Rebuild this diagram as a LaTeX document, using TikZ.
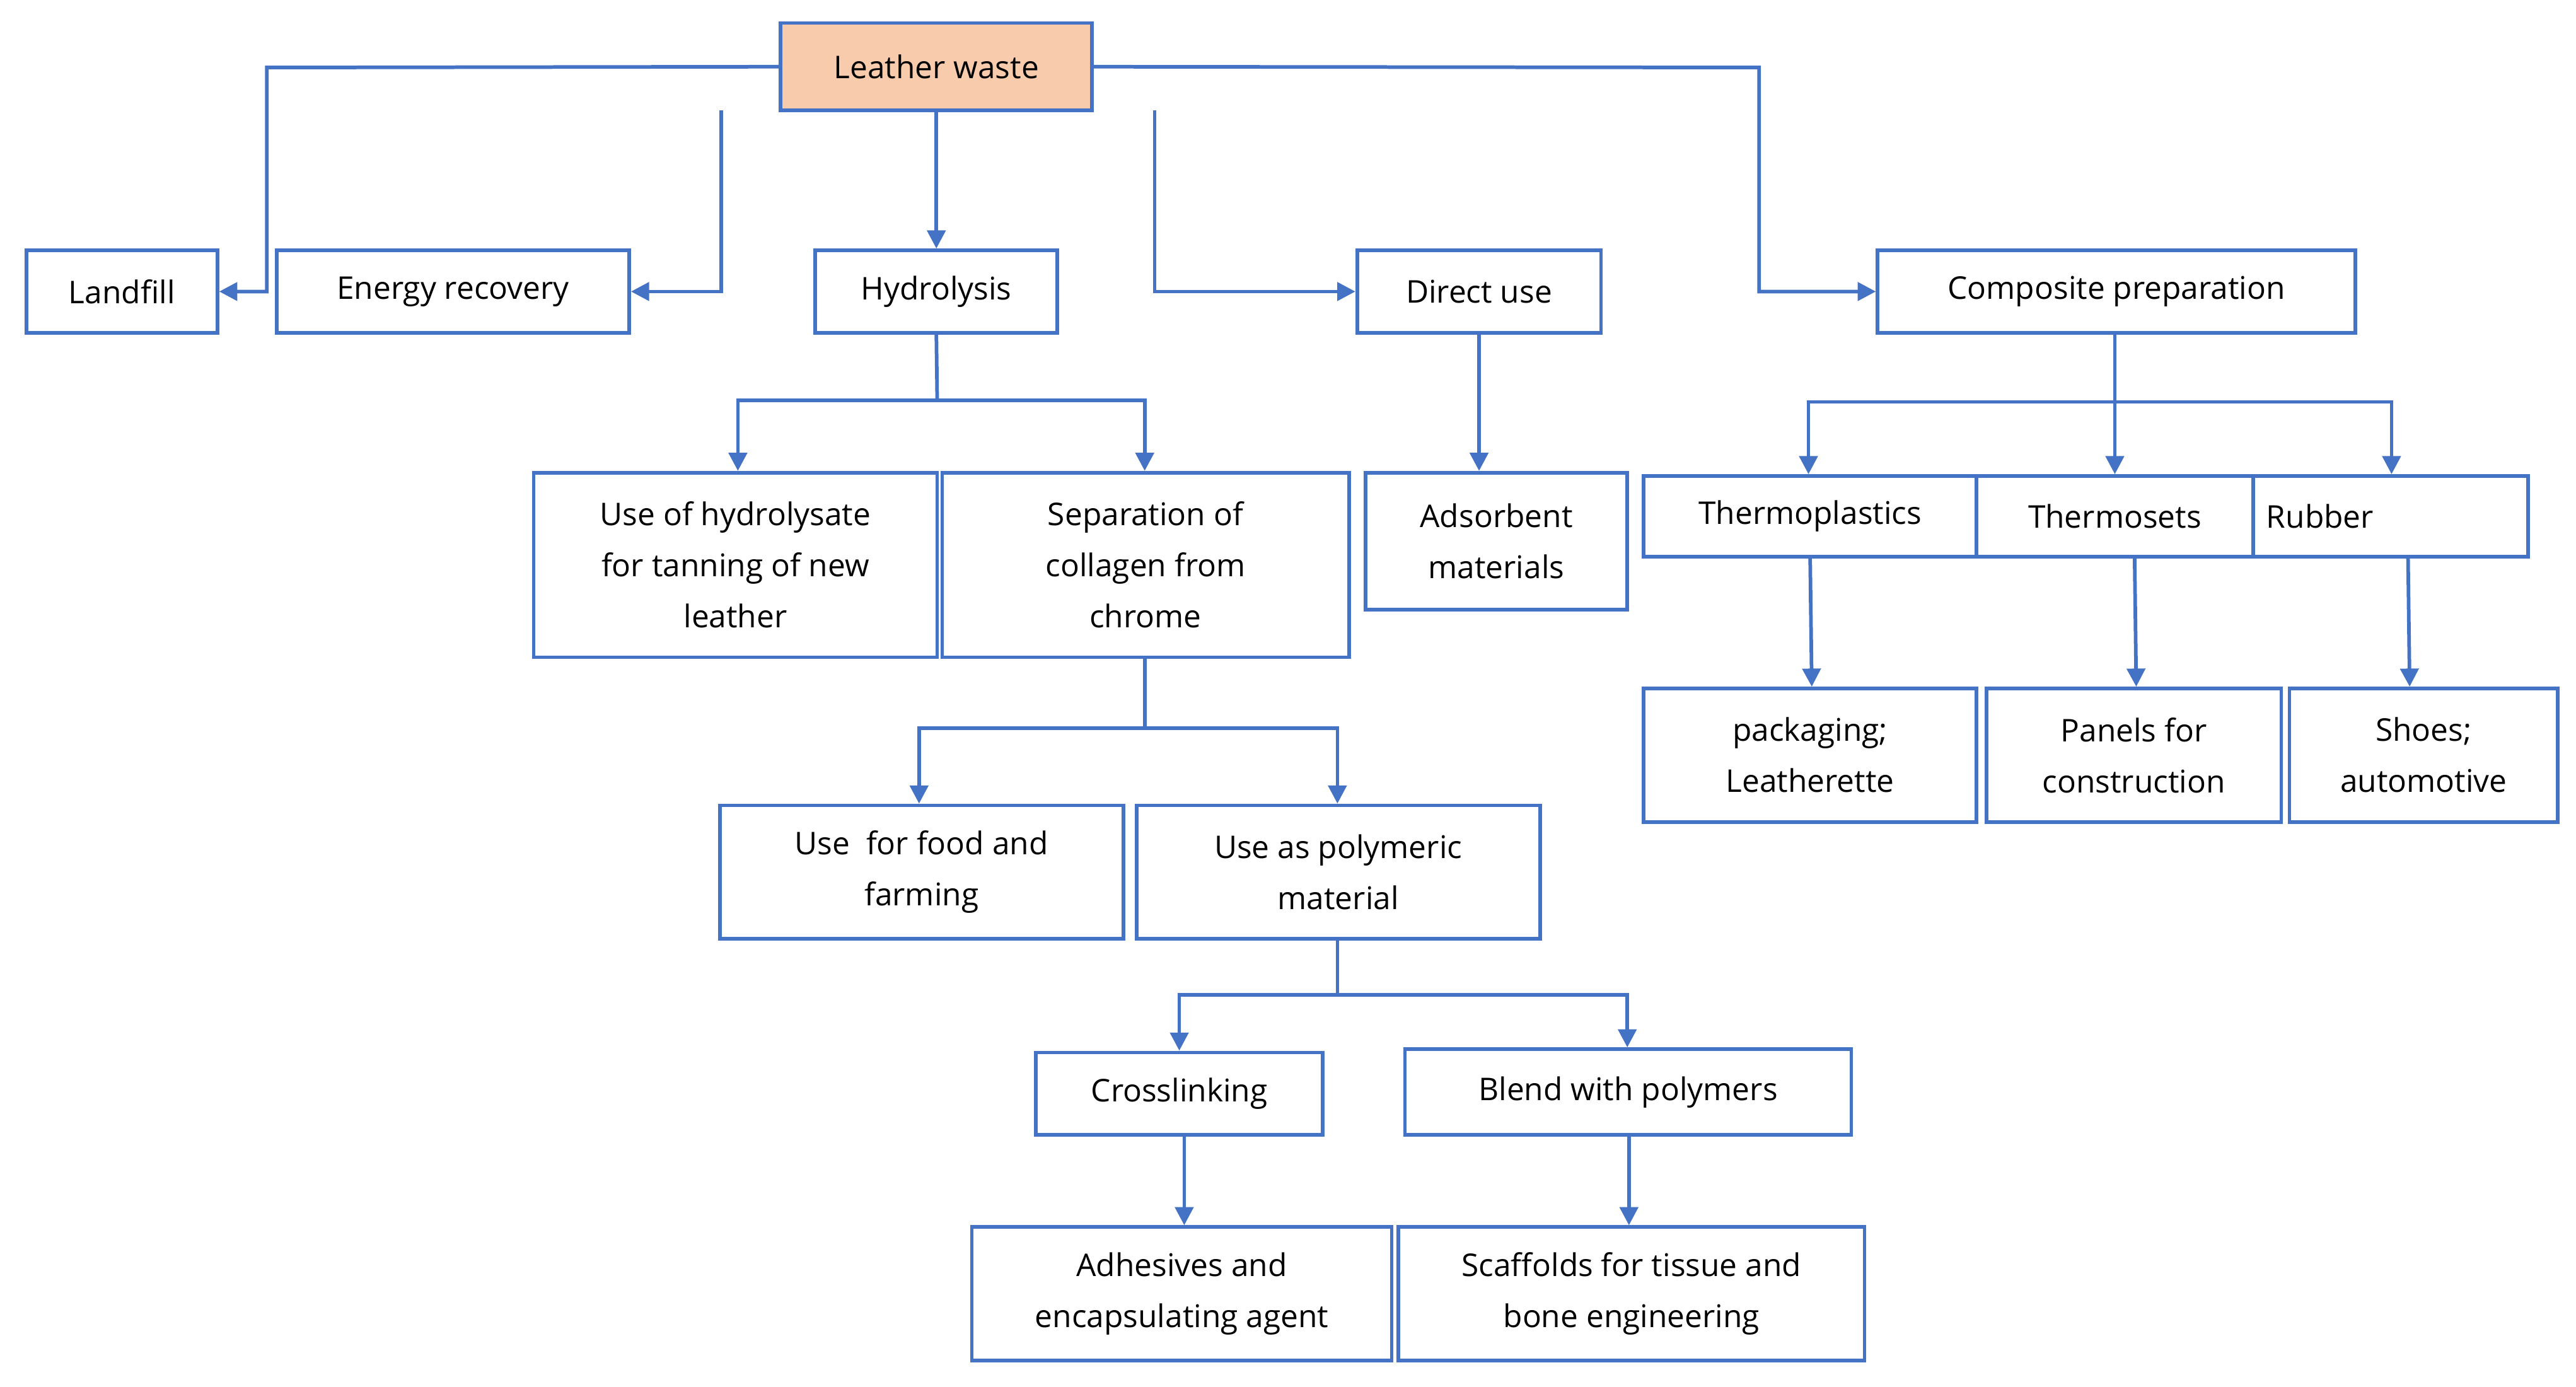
\documentclass[tikz,border=0pt]{standalone}
\usepackage{fontspec}
\setmainfont{Open Sans}
\usetikzlibrary{arrows.meta}
\definecolor{bl}{HTML}{4472C4}
\definecolor{pe}{HTML}{F8CBAD}
\tikzset{
 box/.style={draw=bl,line width=2.2pt,inner sep=0pt,align=center,font=\fontsize{19}{31}\selectfont,text=black},
 ln/.style={draw=bl,line width=2.2pt},
 arr/.style={ln,-{Triangle[length=11pt,width=11pt]}}
}
\newcommand{\bx}[7][]{\node[box,#1,minimum width={(#5-#3)*1pt},minimum height={(#6-#4)*1pt}] (#2) at ({(#3+#5)/2},{(#4+#6)/2}) {#7};}
\begin{document}
\begin{tikzpicture}[x=1pt,y=-1pt]
\useasboundingbox (0,0) rectangle (1564,842);
\bx[fill=pe]{lw}{474}{14}{663}{67}{Leather waste}
\bx{lf}{16}{152}{132}{202}{Landfill}
\bx{er}{168}{152}{382}{202}{Energy recovery}
\bx{hy}{495}{152}{642}{202}{Hydrolysis}
\bx{du}{824}{152}{972}{202}{Direct use}
\bx{cp}{1140}{152}{1430}{202}{Composite preparation}
\bx{uh}{324}{287}{569}{399}{Use of hydrolysate\\for tanning of new\\leather}
\bx{sc}{572}{287}{819}{399}{Separation of\\collagen from\\chrome}
\bx{ad}{829}{287}{988}{370}{Adsorbent\\materials}
\bx{tp}{998}{289}{1200}{338}{Thermoplastics}
\bx{ts}{1200}{289}{1368}{338}{Thermosets}
\node[box,minimum width=167pt,minimum height=49pt,text width=151pt,align=left] (rb) at (1451.5,313.5) {Rubber};
\bx{pk}{998}{418}{1200}{499}{packaging;\\Leatherette}
\bx{pc}{1206}{418}{1385}{499}{Panels for\\construction}
\bx{sh}{1390}{418}{1553}{499}{Shoes;\\automotive}
\bx{uf}{437}{489}{682}{570}{Use\ \ for food and\\farming}
\bx{up}{690}{489}{935}{570}{Use as polymeric\\material}
\bx{cl}{629}{639}{803}{689}{Crosslinking}
\bx{bp}{853}{637}{1124}{689}{Blend with polymers}
\bx{ae}{590}{745}{845}{826}{Adhesives and\\encapsulating agent}
\bx{sf}{849}{745}{1132}{826}{Scaffolds for tissue and\\bone engineering}
% connectors
\coordinate (c1) at (162,41);
\draw[arr] (lw.west) -- (c1) |- (lf.east);
\coordinate (c2) at (438,67);
\draw[arr] (c2) |- (er.east);
\draw[arr] (lw.south -| hy.north) -- (hy.north);
\coordinate (c3) at (701,67);
\draw[arr] (c3) |- (du.west);
\coordinate (c4) at (1068,41);
\draw[arr] (lw.east) -- (c4) |- (cp.west);
% hydrolysis
\coordinate (h0) at (569,243);
\draw[ln] (hy.south) -- (h0);
\coordinate (h1) at (448,243); \coordinate (h2) at (695,243);
\draw[arr] (h0) -- (h1) -- (h1 |- uh.north);
\draw[arr] (h0) -- (h2) -- (h2 |- sc.north);
\draw[arr] (du.south -| 898,0) -- (898,287 |- ad.north);
% composite
\coordinate (k0) at (1284,244);
\draw[ln] (cp.south -| k0) -- (k0);
\coordinate (k1) at (1098,244); \coordinate (k3) at (1452,244);
\draw[arr] (k0) -- (k1) -- (k1 |- tp.north);
\draw[arr] (k0) -- (k3) -- (k3 |- rb.north);
\draw[arr] (k0) -- (k0 |- ts.north);
\draw[arr] (1099,338) -- (pk.north -| 1100,0);
\draw[arr] (1296,338) -- (pc.north -| 1297,0);
\draw[arr] (1462,338) -- (sh.north -| 1463,0);
% separation
\coordinate (s0) at (695,442);
\draw[ln] (sc.south -| s0) -- (s0);
\coordinate (s1) at (558,442); \coordinate (s2) at (812,442);
\draw[arr] (s0) -- (s1) -- (s1 |- uf.north);
\draw[arr] (s0) -- (s2) -- (s2 |- up.north);
% polymeric
\coordinate (p0) at (812,604);
\draw[ln] (up.south -| p0) -- (p0);
\coordinate (p1) at (716,604); \coordinate (p2) at (988,604);
\draw[arr] (p0) -- (p1) -- (p1 |- cl.north);
\draw[arr] (p0) -- (p2) -- (p2 |- bp.north);
\draw[arr] (cl.south -| 719,0) -- (ae.north -| 719,0);
\draw[arr] (bp.south -| 989,0) -- (sf.north -| 989,0);
\end{tikzpicture}
\end{document}
